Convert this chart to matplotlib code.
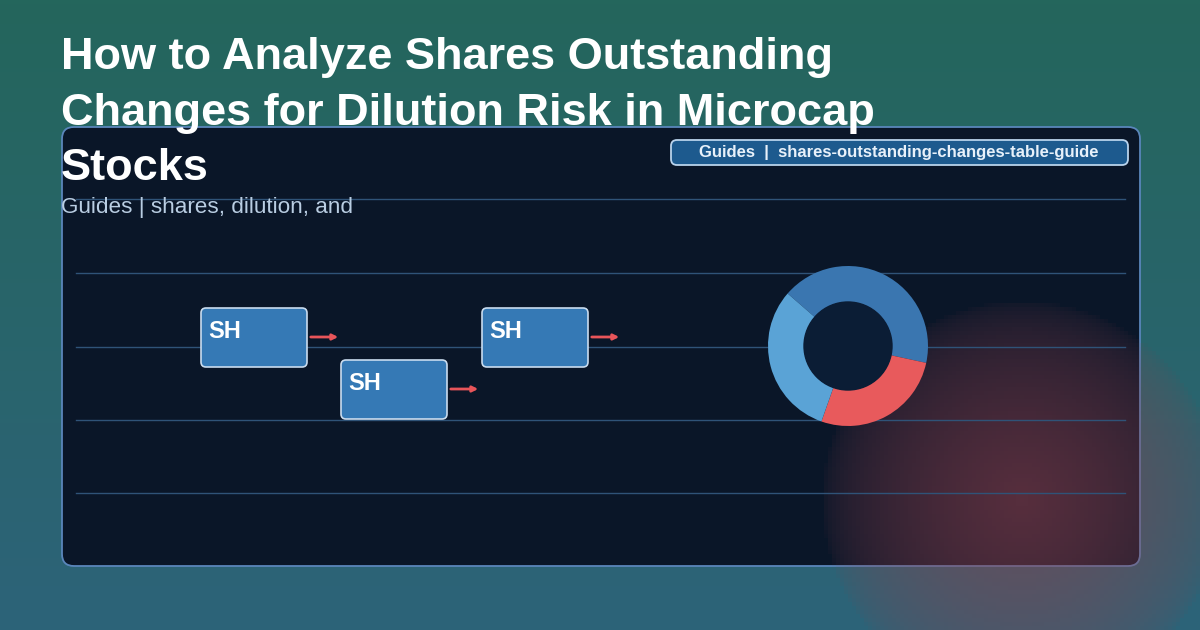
import numpy as np
import matplotlib.pyplot as plt
from matplotlib.patches import FancyBboxPatch

W, H = 1200, 630
title_lines = ["How to Analyze Shares Outstanding", "Changes for Dilution Risk in Microcap", "Stocks"]
subtitle = "Guides | shares, dilution, and"
badge = "Guides  |  shares-outstanding-changes-table-guide"
box_labels = ["SH", "SH", "SH"]
donut_values = [42, 27, 31]
donut_colors = ["#3a76b0", "#e85a5c", "#5aa3d6"]

plt.rcParams['font.family'] = ['Liberation Sans', 'DejaVu Sans']
fig = plt.figure(figsize=(12, 6.3), dpi=100)
ax = fig.add_axes([0, 0, 1, 1])
ax.set_xlim(0, W)
ax.set_ylim(H, 0)
ax.axis('off')

# background gradient
yy, xx = np.mgrid[0:H:4, 0:W:4]
t = (yy / H)[..., None]
top = np.array([0x24, 0x66, 0x5c]) / 255
bot = np.array([0x2d, 0x63, 0x79]) / 255
bg = top * (1 - t) + bot * t
ax.imshow(bg, extent=[0, W, H, 0], zorder=0, aspect='auto')

# panel
ax.add_patch(FancyBboxPatch((62, 127), 1078, 439, boxstyle="round,pad=0,rounding_size=12",
                            fc="#0a1628", ec="#5a86bb", lw=1.3, zorder=1))
# red glow
d = np.hypot(xx - 1020, yy - 500)
a = np.clip(1 - d / 200, 0, 1) ** 0.5 * 0.6
glow = np.zeros(xx.shape + (4,))
glow[..., 0], glow[..., 1], glow[..., 2] = 0.55, 0.25, 0.30
glow[..., 3] = a
ax.imshow(glow, extent=[0, W, H, 0], zorder=2, aspect='auto')

for gy in [199, 273, 347, 420, 493]:
    ax.plot([76, 1125], [gy, gy], color="#2f5378", lw=1, zorder=3)

# flow boxes
positions = [(201, 308), (341, 360), (482, 308)]
for (bx, by), lab in zip(positions, box_labels):
    ax.add_patch(FancyBboxPatch((bx, by), 106, 59, boxstyle="round,pad=0,rounding_size=5",
                                fc="#3579b5", ec="#c9dcef", lw=1.2, zorder=4))
    ax.text(bx + 7, by + 23, lab, color="white", fontsize=17, fontweight='bold', va='center', zorder=5)
    ax.annotate("", xy=(bx + 140, by + 29), xytext=(bx + 107, by + 29),
                arrowprops=dict(arrowstyle="-|>", color="#e8555a", lw=2, mutation_scale=8), zorder=5)

# title and subtitle
for i, line in enumerate(title_lines):
    ax.text(61, 58 + i * 55, line, color="white", fontsize=32.5, fontweight='bold', va='center', zorder=6)
ax.text(61, 207, subtitle, color="#b9cde2", fontsize=16.2, va='center', zorder=6)

# badge
ax.add_patch(FancyBboxPatch((671, 140), 457, 25, boxstyle="round,pad=0,rounding_size=6",
                            fc="#1d5a8e", ec="#b9d3ec", lw=1.3, zorder=6))
ax.text(899, 153, badge, color="#e8f1fa", fontsize=12, fontweight='bold', ha='center', va='center', zorder=7)

# donut
cx, cy, r = 848, 346, 80
dax = fig.add_axes([(cx - r) / W, 1 - (cy + r) / H, 2 * r / W, 2 * r / H])
dax.pie(donut_values, colors=donut_colors, startangle=139, counterclock=False,
        wedgeprops=dict(width=0.45, lw=0))
dax.add_patch(plt.Circle((0, 0), 0.55, color="#0b1d35"))
dax.set_xlim(-1, 1)
dax.set_ylim(-1, 1)
dax.set_aspect('equal')

fig.savefig("out.png", dpi=100)
